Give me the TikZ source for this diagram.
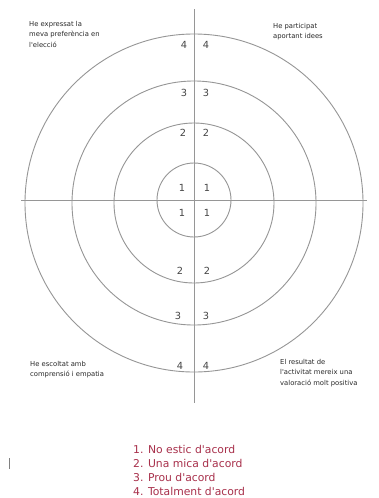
\documentclass[tikz,border=0pt]{standalone}
\usepackage{fontspec}
\setmainfont{DejaVu Sans}
\newcommand\myaq{\textquotesingle}
\definecolor{linegray}{RGB}{150,150,150}
\definecolor{numgray}{RGB}{70,70,70}
\definecolor{labgray}{RGB}{40,40,40}
\definecolor{legred}{RGB}{168,48,75}
\begin{document}
\begin{tikzpicture}[x=1pt,y=-1pt,
  ring/.style={draw=linegray,line width=0.9pt},
  axis/.style={draw=linegray,line width=0.9pt},
  num/.style={text=numgray,font=\fontsize{9.8}{10}\selectfont,inner sep=0pt},
  lab/.style={text=labgray,font=\fontsize{6.8}{10.5}\selectfont,align=left,anchor=north west,inner sep=0pt},
  leg/.style={text=legred,font=\fontsize{10.8}{14}\selectfont,anchor=west,inner sep=0pt}]
\useasboundingbox[fill=white] (0,0) rectangle (379,498);
% axes
\coordinate (top) at (194,9);
\coordinate (bot) at (194,403);
\coordinate (lft) at (21,200);
\coordinate (rgt) at (367,200);
\coordinate (c) at (194,203);
\draw[axis] (top) -- (bot);
\draw[axis] (lft) -- (rgt);
% rings
\draw[ring] (194,200) circle (37);
\draw[ring] (c) circle (80);
\draw[ring] (c) circle (122);
\draw[ring] (c) circle (169);
% numbers
\node[num] (n4a) at (184,45) {4};
\node[num] (n4b) at (206,45) {4};
\node[num] (n3a) at (184,93) {3};
\node[num] (n3b) at (206,93) {3};
\node[num] (n2a) at (183,133) {2};
\node[num] (n2b) at (206,133) {2};
\node[num] (n1a) at (182,188) {1};
\node[num] (n1b) at (207,188) {1};
\node[num] (n1c) at (182,213) {1};
\node[num] (n1d) at (207,213) {1};
\node[num] (n2c) at (180,271) {2};
\node[num] (n2d) at (207,271) {2};
\node[num] (n3c) at (178,316) {3};
\node[num] (n3d) at (206,316) {3};
\node[num] (n4c) at (180,366) {4};
\node[num] (n4d) at (206,366) {4};
% corner labels
\node[lab] (tl) at (29,21) {He expressat la\\meva preferència en\\l\myaq elecció};
\node[lab] (tr) at (273,23) {He participat\\aportant idees};
\node[lab] (bl) at (30,361) {He escoltat amb\\comprensió i empatia};
\node[lab] (br) at (280,359) {El resultat de\\l\myaq activitat mereix una\\valoració molt positiva};
% cursor mark
\coordinate (cur1) at (9,458);
\coordinate (cur2) at (9,469);
\draw[draw=gray,line width=0.8pt] (cur1) -- (cur2);
% legend
\node[leg] (l1) at (133,449) {1. No estic d\myaq acord};
\node[leg] (l2) at (133,463) {2. Una mica d\myaq acord};
\node[leg] (l3) at (133,477) {3. Prou d\myaq acord};
\node[leg] (l4) at (133,491) {4. Totalment d\myaq acord};
\end{tikzpicture}
\end{document}
